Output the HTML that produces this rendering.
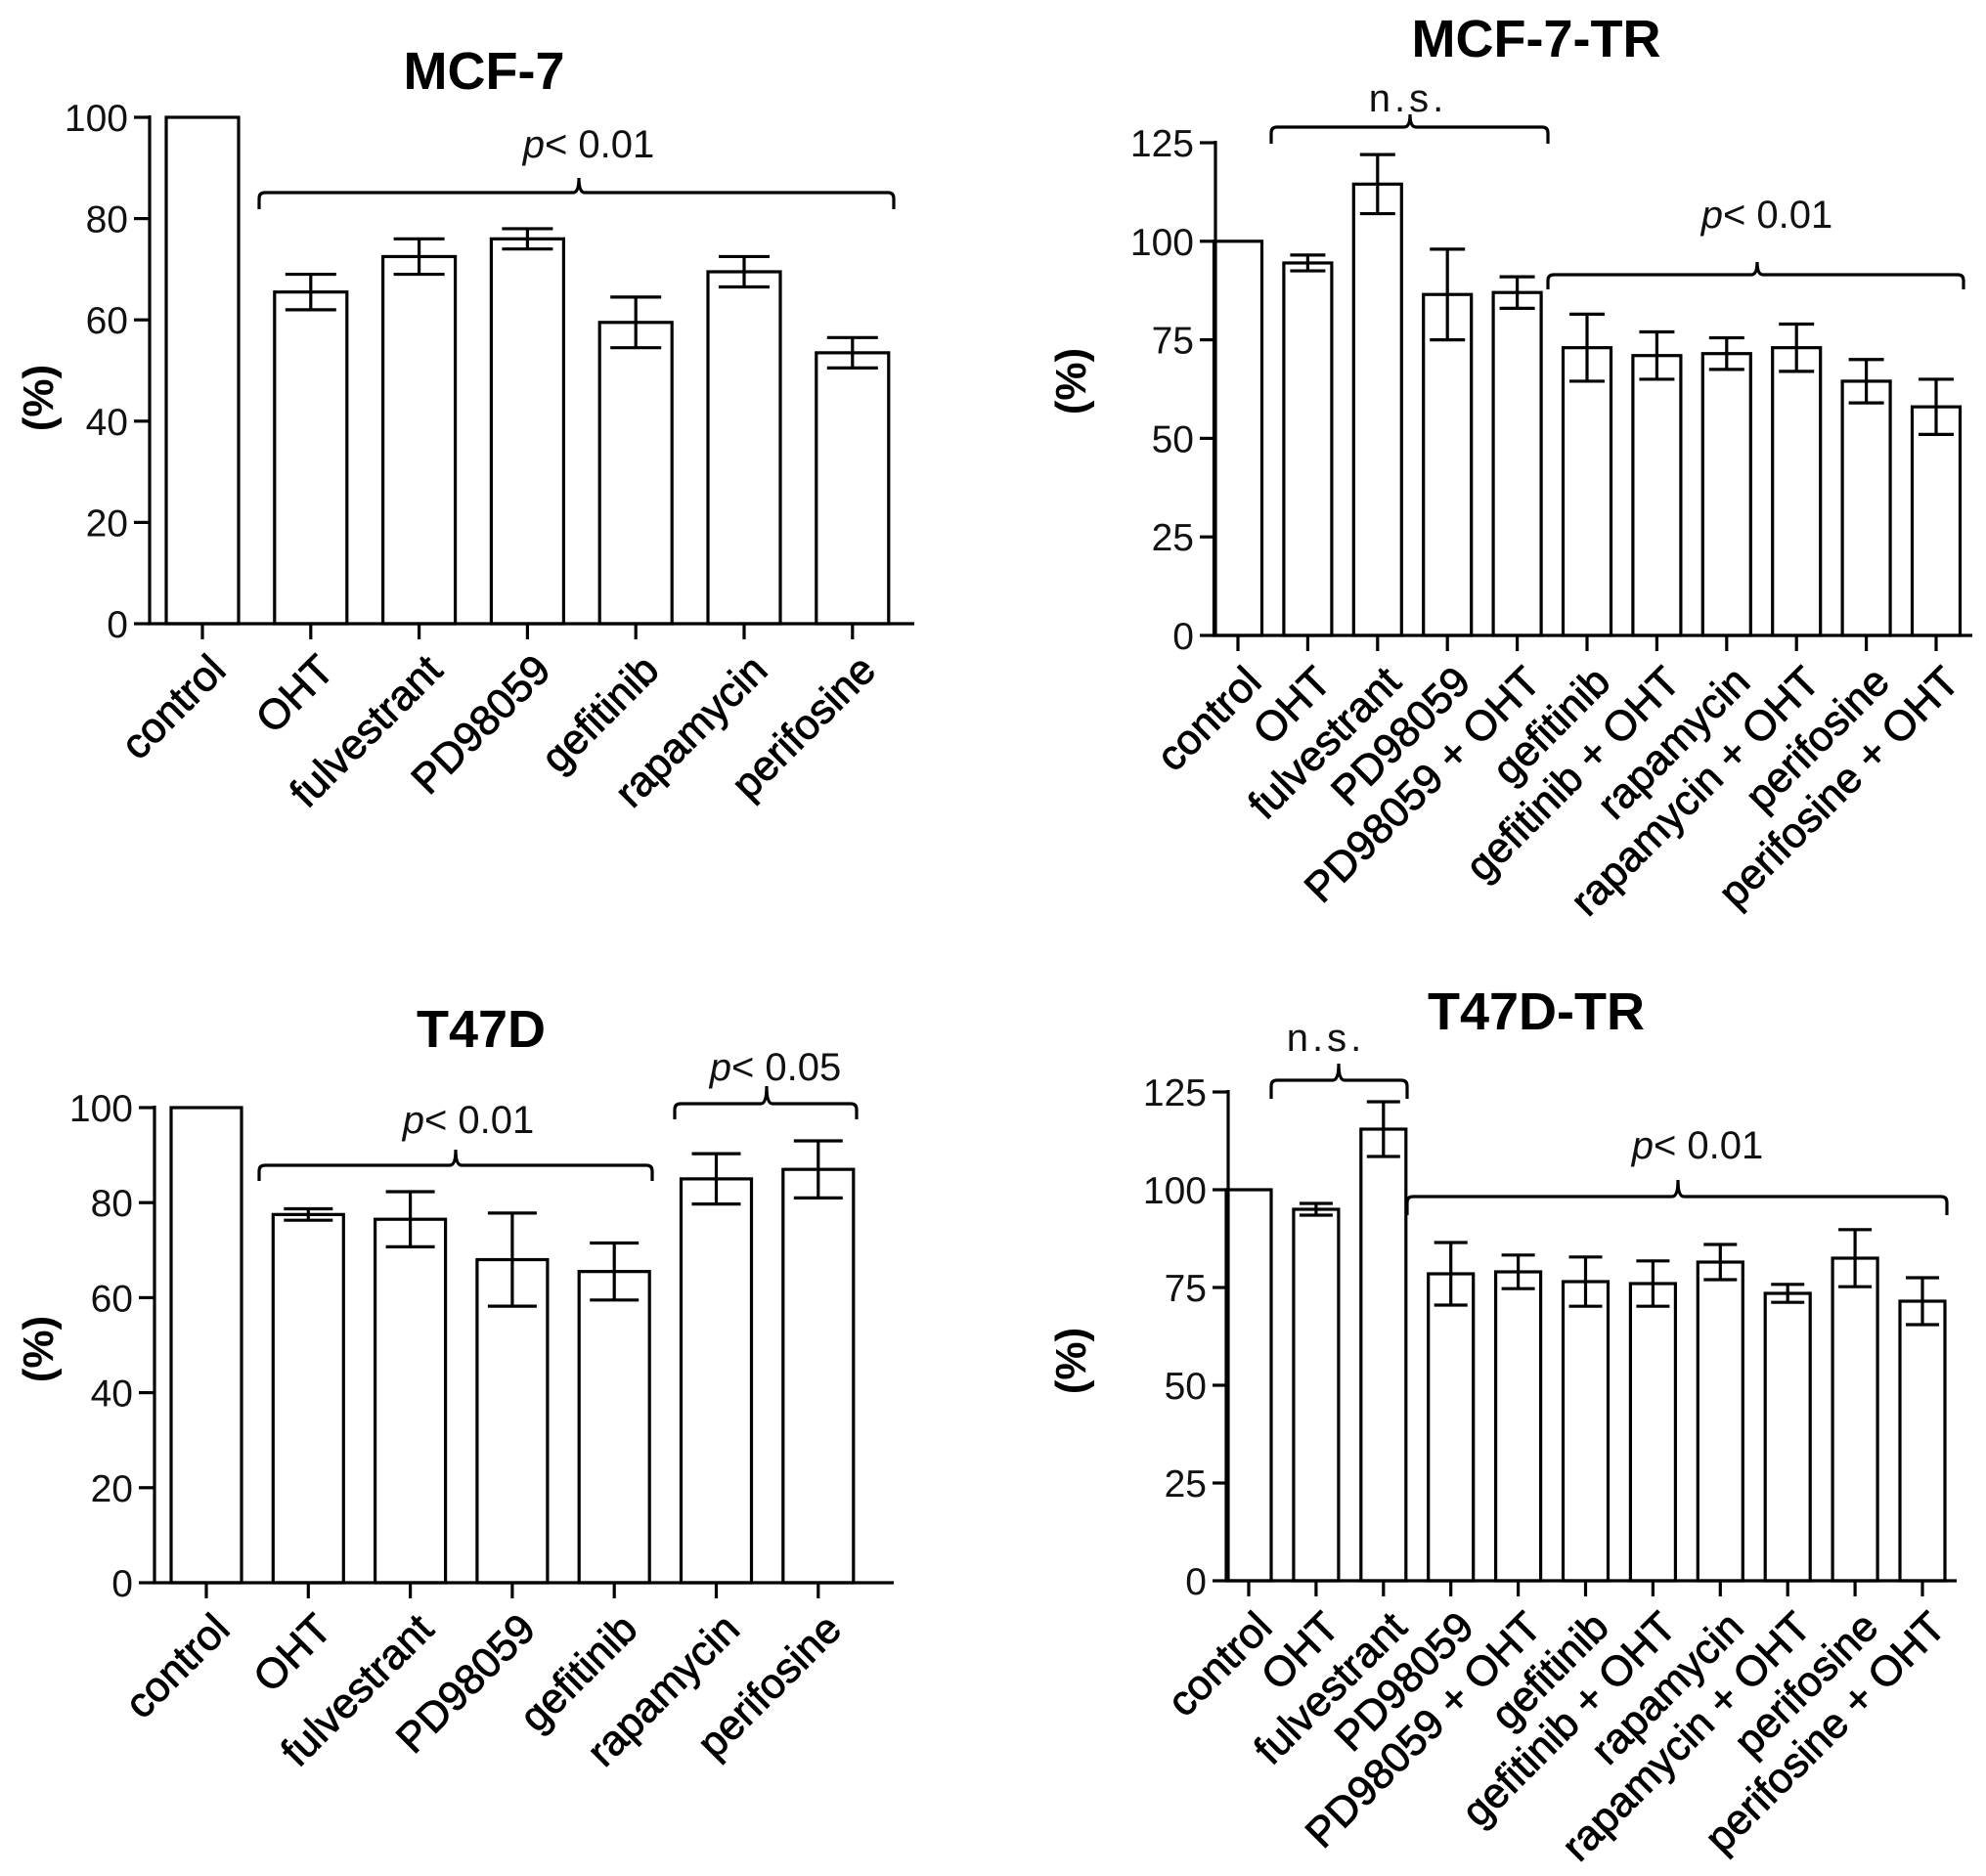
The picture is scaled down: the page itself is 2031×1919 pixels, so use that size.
<!DOCTYPE html>
<html><head><meta charset="utf-8"><style>
html,body{margin:0;padding:0;background:#fff;}
svg{display:block;font-family:"Liberation Sans",Arial,sans-serif;}
</style></head><body>
<svg id="fig" width="2031" height="1919" viewBox="0 0 2031 1919" xmlns="http://www.w3.org/2000/svg"></svg>
<script>
// ---- Data ----
const mcf7Cats = ["control","OHT","fulvestrant","PD98059","gefitinib","rapamycin","perifosine"];
const mcf7Vals = [100,65.5,72.5,76,59.5,69.5,53.5];
const mcf7Err  = [0,3.5,3.5,2,5,3,3];
const mcf7Ticks = [0,20,40,60,80,100];

const mcf7trCats = ["control","OHT","fulvestrant","PD98059","PD98059 + OHT","gefitinib","gefitinib + OHT","rapamycin","rapamycin + OHT","perifosine","perifosine + OHT"];
const mcf7trVals = [100,94.5,114.5,86.5,87,73,71,71.5,73,64.5,58];
const mcf7trErr  = [0,2,7.5,11.5,4,8.5,6,4,6,5.5,7];
const trTicks = [0,25,50,75,100,125];

const t47dCats = ["control","OHT","fulvestrant","PD98059","gefitinib","rapamycin","perifosine"];
const t47dVals = [100,77.5,76.5,68,65.5,85,87];
const t47dErr  = [0,1.2,5.8,9.8,6,5.3,6];

const t47dtrCats = mcf7trCats;
const t47dtrVals = [100,95,115.5,78.5,79,76.5,76,81.5,73.5,82.5,71.5];
const t47dtrErr  = [0,1.5,7,8,4.3,6.3,5.8,4.5,2.3,7.3,6];

const NS="http://www.w3.org/2000/svg";
const svg=document.getElementById('fig');
function mk(tag,attrs,parent){const e=document.createElementNS(NS,tag);for(const k in attrs)e.setAttribute(k,attrs[k]);(parent||svg).appendChild(e);return e;}

function panel(p){
  const g=mk('g',{});
  
  
  const y=v=>p.y0-(v/p.ymax)*(p.y0-p.ytop);
  const x=i=>p.x0+i*p.dx;
  const lw=3.2;
  const t=mk('text',{x:p.tx,y:p.ty,'text-anchor':'middle','font-size':54,'font-weight':'bold'},g);
  t.textContent=p.title;
  
  
  const yl=mk('text',{x:0,y:0,'text-anchor':'middle','font-size':44,'font-weight':'bold',transform:`translate(${p.ylx},${p.yly}) rotate(-90)`},g);
  yl.textContent='(%)';
  
  
  p.vals.forEach((v,i)=>{
    const r=mk('rect',{x:x(i)-p.bw/2,y:y(v),width:p.bw,height:p.y0-y(v),fill:'#fff',stroke:'#000','stroke-width':lw},g);
    
    
    const e=p.err[i];
    if(e>0){
      const eg=mk('path',{d:`M${x(i)} ${y(v+e)}V${y(v-e)}M${x(i)-p.cap} ${y(v+e)}H${x(i)+p.cap}M${x(i)-p.cap} ${y(v-e)}H${x(i)+p.cap}`,stroke:'#000','stroke-width':lw,fill:'none'},g);
      
      
    }
  });
  const ax=mk('path',{d:`M${p.x0a} ${y(p.ymax)-2}V${p.y0}H${p.xend}`,stroke:'#000','stroke-width':lw,fill:'none'},g);
  
  
  p.ticks.forEach(tv=>{
    mk('line',{x1:p.x0a-16,x2:p.x0a,y1:y(tv),y2:y(tv),stroke:'#000','stroke-width':lw},g);
    const tl=mk('text',{x:p.x0a-22,y:y(tv)+14,'text-anchor':'end','font-size':39,fill:'#111'},g);
    tl.textContent=tv;
    
    
  });
  p.cats.forEach((c,i)=>{
    mk('line',{x1:x(i),x2:x(i),y1:p.y0,y2:p.y0+16,stroke:'#000','stroke-width':lw},g);
    const xl=mk('text',{x:0,y:0,'text-anchor':'end','font-size':43,stroke:'#000','stroke-width':0.9,transform:`translate(${x(i)+26},${p.y0+50}) rotate(-45)`},g);
    xl.textContent=c;
    
    
  });
  p.brackets.forEach(b=>{
    const bp=mk('path',{d:`M${b.x1} ${b.yb}V${b.y+6}Q${b.x1} ${b.y} ${b.x1+6} ${b.y}H${b.xm-6}Q${b.xm} ${b.y} ${b.xm} ${b.yn}Q${b.xm} ${b.y} ${b.xm+6} ${b.y}H${b.x2-6}Q${b.x2} ${b.y} ${b.x2} ${b.y+6}V${b.yb}`,stroke:'#000','stroke-width':lw,fill:'none'},g);
    
    
    const bt=mk('text',{x:b.tx,y:b.ty,'text-anchor':'middle','font-size':40,fill:'#111'},g);
    if(b.label==='ns'){bt.textContent='n.s.';bt.setAttribute('letter-spacing','4');}
    else{const ts=mk('tspan',{'font-style':'italic'},bt);ts.textContent='p';const t2=mk('tspan',{},bt);t2.textContent='< '+b.label;}
    
    
  });
}

panel({name:'panel-mcf7',title:'MCF-7',tx:495,ty:91,ylx:54,yly:407,cats:mcf7Cats,vals:mcf7Vals,err:mcf7Err,ticks:mcf7Ticks,ymax:100,
  y0:638,ytop:120,x0a:153,x0:207,dx:110.8,bw:74,cap:26,xend:935,
  brackets:[{x1:265,x2:914,xm:592,y:197,yb:214,yn:182,tx:602,ty:161,label:'0.01'}]});

panel({name:'panel-mcf7-tr',title:'MCF-7-TR',tx:1571,ty:58,ylx:1110,yly:390,cats:mcf7trCats,vals:mcf7trVals,err:mcf7trErr,ticks:trTicks,ymax:125,
  y0:650,ytop:146,x0a:1243,x0:1266,dx:71.4,bw:49,cap:18,xend:2017,
  brackets:[{x1:1300,x2:1583,xm:1442,y:130,yb:147,yn:117,tx:1440,ty:114,label:'ns'},
            {x1:1583,x2:2008,xm:1797,y:281,yb:296,yn:268,tx:1807,ty:233,label:'0.01'}]});

panel({name:'panel-t47d',title:'T47D',tx:492,ty:1071,ylx:54,yly:1380,cats:t47dCats,vals:t47dVals,err:t47dErr,ticks:mcf7Ticks,ymax:100,
  y0:1619,ytop:1133,x0a:158,x0:211,dx:104.3,bw:72,cap:25,xend:914,
  brackets:[{x1:265,x2:667,xm:466,y:1192,yb:1208,yn:1176,tx:479,ty:1159,label:'0.01'},
            {x1:690,x2:876,xm:784,y:1129,yb:1145,yn:1111,tx:793,ty:1105,label:'0.05'}]});

panel({name:'panel-t47d-tr',title:'T47D-TR',tx:1571,ty:1053,ylx:1110,yly:1392,cats:t47dtrCats,vals:t47dtrVals,err:t47dtrErr,ticks:trTicks,ymax:125,
  y0:1617,ytop:1117,x0a:1256,x0:1277,dx:68.9,bw:46,cap:17,xend:2001,
  brackets:[{x1:1300,x2:1439,xm:1369,y:1105,yb:1124,yn:1088,tx:1356,ty:1075,label:'ns'},
            {x1:1439,x2:1991,xm:1716,y:1224,yb:1243,yn:1207,tx:1736,ty:1185,label:'0.01'}]});
</script>
</body></html>
